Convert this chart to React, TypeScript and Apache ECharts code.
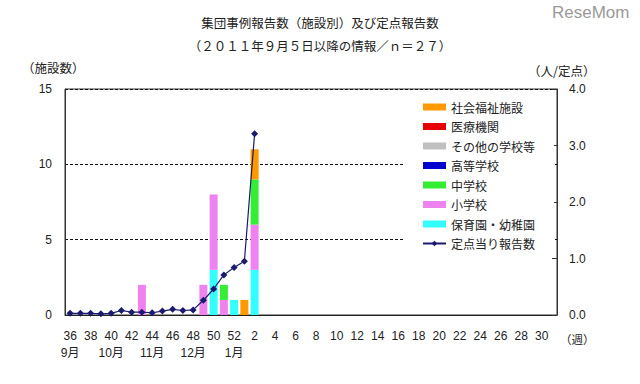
import React, { useEffect, useRef } from "react";
import * as echarts from "echarts";

const weeks: string[] = [
  "36", "37", "38", "39", "40", "41", "42", "43", "44", "45", "46", "47", "48", "49", "50", "51", "52",
  "1", "2", "3", "4", "5", "6", "7", "8", "9", "10", "11", "12", "13", "14", "15", "16", "17", "18",
  "19", "20", "21", "22", "23", "24", "25", "26", "27", "28", "29", "30", "31",
];

const monthLabels: Record<string, string> = { "36": "9月", "40": "10月", "44": "11月", "48": "12月", "52": "1月" };

const N = null;
// 36..52, 1..31
const nursery = [N, N, N, N, N, N, N, N, N, N, N, N, N, N, 3, N, 1, N, 3, N, N, N, N, N, N, N, N, N, N, N, N, N, N, N, N, N, N, N, N, N, N, N, N, N, N, N, N, N];
const elementary = [N, N, N, N, N, N, N, 2, N, N, N, N, N, 2, 5, 1, N, N, 3, N, N, N, N, N, N, N, N, N, N, N, N, N, N, N, N, N, N, N, N, N, N, N, N, N, N, N, N, N];
const juniorHigh = [N, N, N, N, N, N, N, N, N, N, N, N, N, N, N, 1, N, N, 3, N, N, N, N, N, N, N, N, N, N, N, N, N, N, N, N, N, N, N, N, N, N, N, N, N, N, N, N, N];
const highSchool = [N, N, N, N, N, N, N, N, N, N, N, N, N, N, N, N, N, N, N, N, N, N, N, N, N, N, N, N, N, N, N, N, N, N, N, N, N, N, N, N, N, N, N, N, N, N, N, N];
const otherSchool = [N, N, N, N, N, N, N, N, N, N, N, N, N, N, N, N, N, N, N, N, N, N, N, N, N, N, N, N, N, N, N, N, N, N, N, N, N, N, N, N, N, N, N, N, N, N, N, N];
const medical = [N, N, N, N, N, N, N, N, N, N, N, N, N, N, N, N, N, N, N, N, N, N, N, N, N, N, N, N, N, N, N, N, N, N, N, N, N, N, N, N, N, N, N, N, N, N, N, N];
const welfare = [N, N, N, N, N, N, N, N, N, N, N, N, N, N, N, N, N, 1, 2, N, N, N, N, N, N, N, N, N, N, N, N, N, N, N, N, N, N, N, N, N, N, N, N, N, N, N, N, N];
const perSentinel = [0.03, 0.03, 0.03, 0.02, 0.03, 0.08, 0.05, 0.05, 0.04, 0.07, 0.1, 0.08, 0.09, 0.26, 0.46, 0.71, 0.84, 0.95, 3.21, N, N, N, N, N, N, N, N, N, N, N, N, N, N, N, N, N, N, N, N, N, N, N, N, N, N, N, N, N];

const leftTicks = { min: 0, max: 15, interval: 5 };
const rightTicks = { min: 0, max: 4, interval: 1 };

const barNames = ["保育園・幼稚園", "小学校", "中学校", "高等学校", "その他の学校等", "医療機関", "社会福祉施設"];
const barData = [nursery, elementary, juniorHigh, highSchool, otherSchool, medical, welfare];
const barColors = ["#33FFFF", "#EE82EE", "#33EE33", "#0000CC", "#C0C0C0", "#E60000", "#FF9900"];
const lineName = "定点当り報告数";

const SANS = "'Liberation Sans', 'Noto Sans CJK JP', sans-serif";
const CJK = "'Noto Sans CJK JP', sans-serif";

export default function App() {
  const ref = useRef<HTMLDivElement>(null);
  useEffect(() => {
    document.body.style.margin = "0";
    if (!ref.current) return;
    const chart = echarts.init(ref.current, null, { renderer: "svg" });
    const series: any[] = barNames.map((name, i) => ({
      name,
      type: "bar",
      stack: "a",
      barWidth: 8,
      data: barData[i],
      itemStyle: { color: barColors[i] },
    }));
    series.push({
      name: lineName,
      type: "line",
      yAxisIndex: 1,
      data: perSentinel,
      symbol: "diamond",
      symbolSize: 7,
      showAllSymbol: true,
      connectNulls: false,
      lineStyle: { color: "#1A1A6E", width: 1.2 },
      itemStyle: { color: "#1A1A6E" },
      z: 5,
    });
    chart.setOption({
      animation: false,
      backgroundColor: "#fff",
      title: [
        {
          text: "集団事例報告数（施設別）及び定点報告数",
          left: "center",
          top: 11,
          textStyle: { fontFamily: CJK, fontSize: 12.5, fontWeight: "normal", color: "#222" },
        },
        {
          text: "（２０１１年９月５日以降の情報／ｎ＝２７）",
          left: "center",
          top: 34,
          textStyle: { fontFamily: CJK, fontSize: 12.5, fontWeight: "normal", color: "#222" },
        },
      ],
      graphic: [
        { type: "text", left: 552, top: 4, style: { text: "ReseMom", fontFamily: SANS, fontSize: 17, fill: "#9a9a9a" } },
        { type: "text", left: 22, top: 61, style: { text: "（施設数）", fontFamily: CJK, fontSize: 12.5, fill: "#222" } },
        { type: "text", left: 528, top: 64, style: { text: "（人/定点）", fontFamily: CJK, fontSize: 12.5, fill: "#222" } },
        { type: "text", left: 560, top: 333, style: { text: "（週）", fontFamily: CJK, fontSize: 11.5, fill: "#222" } },
      ],
      legend: {
        orient: "vertical",
        left: 405,
        top: 95,
        padding: [5, 19, 5, 17],
        backgroundColor: "#fff",
        itemWidth: 23,
        itemHeight: 7,
        itemGap: 5.5,
        textStyle: { fontFamily: CJK, fontSize: 12, lineHeight: 14, color: "#222" },
        data: [
          { name: "社会福祉施設", icon: "rect" },
          { name: "医療機関", icon: "rect" },
          { name: "その他の学校等", icon: "rect" },
          { name: "高等学校", icon: "rect" },
          { name: "中学校", icon: "rect" },
          { name: "小学校", icon: "rect" },
          { name: "保育園・幼稚園", icon: "rect" },
          { name: lineName },
        ],
      },
      grid: {
        left: 65,
        right: 83,
        top: 89,
        bottom: 69,
        show: true,
        borderColor: "#333",
        borderWidth: 1,
        backgroundColor: "transparent",
      },
      xAxis: {
        type: "category",
        data: weeks,
        boundaryGap: true,
        axisLine: { lineStyle: { color: "#222", width: 1 } },
        axisTick: { inside: true, length: 5, interval: 1, lineStyle: { color: "#222" } },
        axisLabel: {
          interval: 1,
          margin: 12,
          fontFamily: SANS,
          fontSize: 12,
          lineHeight: 17,
          color: "#222",
          formatter: (v: string) => (monthLabels[v] ? v + "\n" + monthLabels[v] : v),
        },
      },
      yAxis: [
        {
          type: "value",
          ...leftTicks,
          axisLine: { show: true, lineStyle: { color: "#333" } },
          axisTick: { show: false },
          axisLabel: { margin: 13, fontFamily: SANS, fontSize: 12, color: "#222" },
          splitLine: { show: true, lineStyle: { color: "#111", type: [3, 2], width: 1 } },
        },
        {
          type: "value",
          ...rightTicks,
          position: "right",
          axisLine: { show: true, lineStyle: { color: "#333" } },
          axisTick: { show: true, inside: true, length: 5, lineStyle: { color: "#333" } },
          axisLabel: {
            margin: 12,
            fontFamily: SANS,
            fontSize: 12,
            color: "#222",
            formatter: (v: number) => v.toFixed(1),
          },
          splitLine: { show: false },
        },
      ],
      series,
    });
    return () => chart.dispose();
  }, []);
  return <div ref={ref} style={{ width: 640, height: 384 }} />;
}
